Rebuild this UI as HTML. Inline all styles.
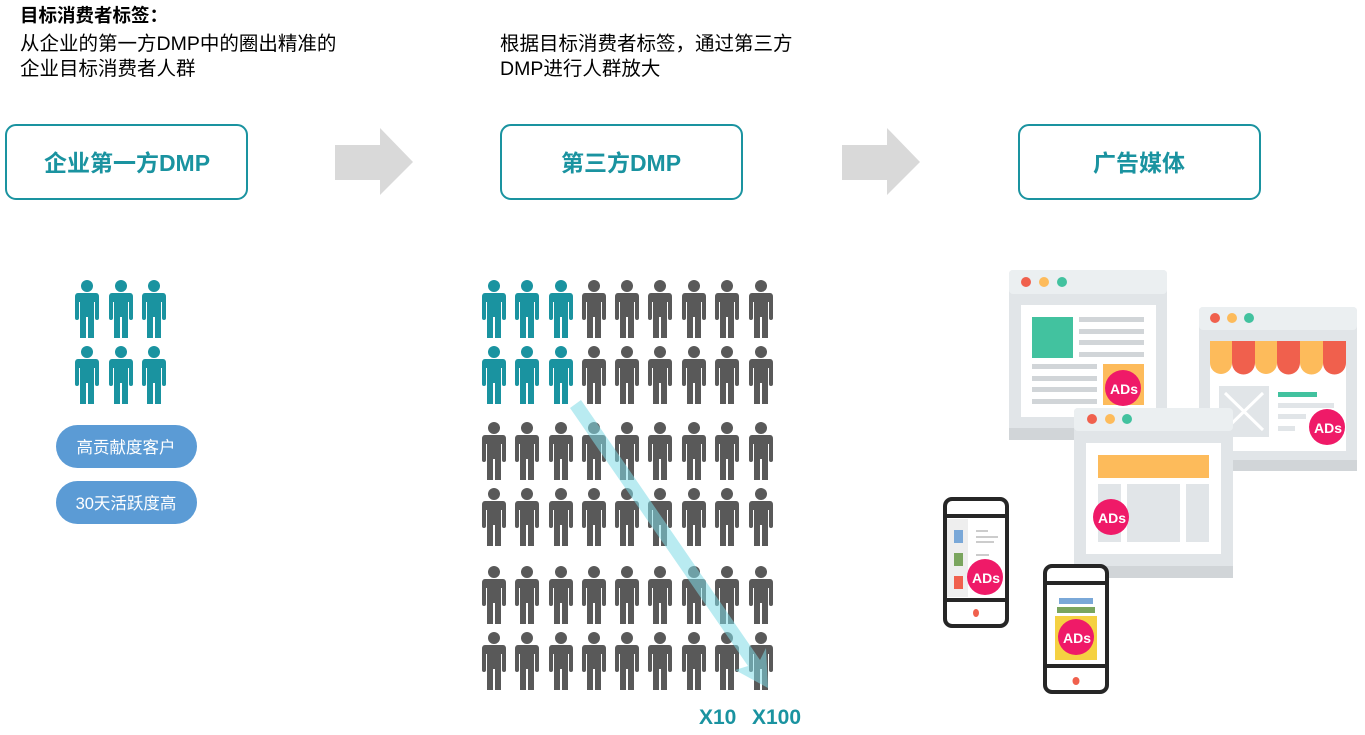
<!DOCTYPE html><html><head><meta charset="utf-8"><style>
body{margin:0;width:1365px;height:730px;background:#fff;overflow:hidden;font-family:"Liberation Sans","Noto Sans CJK SC",sans-serif}
</style></head><body>
<svg width="1365" height="730" xmlns="http://www.w3.org/2000/svg" font-family="Liberation Sans, Noto Sans CJK SC, sans-serif">
<defs>
<g id="p">
<circle cx="12" cy="6" r="6"/>
<path d="M3 13 H21 Q24 13 24 17 V38 Q24 40 22 40 Q20 40 20 38 V22 H19 V58 H13 V37 H11 V58 H5 V22 H4 V38 Q4 40 2 40 Q0 40 0 38 V17 Q0 13 3 13Z"/>
</g>
<g id="row9">
<use href="#p" x="482" y="0"/><use href="#p" x="515" y="0"/><use href="#p" x="549" y="0"/><use href="#p" x="582" y="0"/><use href="#p" x="615" y="0"/><use href="#p" x="648" y="0"/><use href="#p" x="682" y="0"/><use href="#p" x="715" y="0"/><use href="#p" x="749" y="0"/>
</g>
</defs>
<text x="20" y="22" font-size="18.5" font-weight="bold" fill="#000">目标消费者标签：</text>
<text x="20" y="50" font-size="19.5" fill="#000">从企业的第一方DMP中的圈出精准的</text>
<text x="20" y="75" font-size="19.5" fill="#000">企业目标消费者人群</text>
<text x="500" y="50" font-size="19.5" fill="#000">根据目标消费者标签，通过第三方</text>
<text x="500" y="75" font-size="19.5" fill="#000">DMP进行人群放大</text>
<g fill="#fff" stroke="#1a93a0" stroke-width="2">
<rect x="6" y="125" width="241" height="74" rx="10"/>
<rect x="501" y="125" width="241" height="74" rx="10"/>
<rect x="1019" y="125" width="241" height="74" rx="10"/>
</g>
<g fill="#1a93a0" font-size="23" font-weight="bold" text-anchor="middle">
<text x="127" y="171">企业第一方DMP</text>
<text x="621" y="171">第三方DMP</text>
<text x="1139" y="171">广告媒体</text>
</g>
<g fill="#d9d9d9">
<path d="M335 145 H380 V128 L413 162 L380 195 V180 H335Z"/>
<path d="M842 145 H887 V128 L920 162 L887 195 V180 H842Z"/>
</g>
<g fill="#1a93a0">
<use href="#p" x="75" y="280"/><use href="#p" x="109" y="280"/><use href="#p" x="142" y="280"/>
<use href="#p" x="75" y="346"/><use href="#p" x="109" y="346"/><use href="#p" x="142" y="346"/>
</g>
<rect x="56" y="425" width="141" height="43" rx="21.5" fill="#5b9bd5"/>
<rect x="56" y="481" width="141" height="43" rx="21.5" fill="#5b9bd5"/>
<text x="126" y="453" font-size="16.5" fill="#fff" text-anchor="middle">高贡献度客户</text>
<text x="126" y="509" font-size="16.5" fill="#fff" text-anchor="middle">30天活跃度高</text>
<g fill="#1a93a0">
<use href="#p" x="482" y="280"/><use href="#p" x="515" y="280"/><use href="#p" x="549" y="280"/>
<use href="#p" x="482" y="346"/><use href="#p" x="515" y="346"/><use href="#p" x="549" y="346"/>
</g>
<g fill="#595959">
<use href="#p" x="582" y="280"/><use href="#p" x="615" y="280"/><use href="#p" x="648" y="280"/><use href="#p" x="682" y="280"/><use href="#p" x="715" y="280"/><use href="#p" x="749" y="280"/>
<use href="#p" x="582" y="346"/><use href="#p" x="615" y="346"/><use href="#p" x="648" y="346"/><use href="#p" x="682" y="346"/><use href="#p" x="715" y="346"/><use href="#p" x="749" y="346"/>
<use href="#row9" y="422"/><use href="#row9" y="488"/><use href="#row9" y="566"/><use href="#row9" y="632"/>
</g>
<g opacity="0.55" fill="#7fdbe6">
<path d="M570 408 L581 400 L760 660 L766 648 L768 688 L735 670 L748 666 L570 408Z"/>
</g>
<text x="699" y="724" font-size="21" font-weight="bold" fill="#1a93a0">X10</text>
<text x="752" y="724" font-size="21" font-weight="bold" fill="#1a93a0">X100</text>
<g>
<rect x="1009" y="270" width="158" height="170" rx="4" fill="#e1e5e8"/>
<rect x="1009" y="270" width="158" height="24" rx="4" fill="#ebeff1"/>
<rect x="1009" y="428" width="158" height="12" fill="#d1d5d8"/>
<circle cx="1026" cy="282" r="5" fill="#f0604d"/><circle cx="1044" cy="282" r="5" fill="#fdbb5b"/><circle cx="1062" cy="282" r="5" fill="#42c29f"/>
<rect x="1021" y="305" width="135" height="112" fill="#fff"/>
<rect x="1032" y="317" width="41" height="41" fill="#42c29f"/>
<g fill="#d1d5d8"><rect x="1079" y="317" width="65" height="5"/><rect x="1079" y="329" width="65" height="5"/><rect x="1079" y="340" width="65" height="5"/><rect x="1079" y="352" width="65" height="5"/>
<rect x="1032" y="364" width="65" height="5"/><rect x="1032" y="376" width="65" height="5"/><rect x="1032" y="387" width="65" height="5"/><rect x="1032" y="399" width="65" height="5"/></g>
<rect x="1103" y="364" width="41" height="41" fill="#fdbb5b"/>
</g>
<g>
<rect x="1199" y="307" width="158" height="164" rx="4" fill="#e1e5e8"/>
<rect x="1199" y="307" width="158" height="23" rx="4" fill="#ebeff1"/>
<rect x="1199" y="460" width="158" height="11" fill="#d1d5d8"/>
<circle cx="1215" cy="318" r="5" fill="#f0604d"/><circle cx="1232" cy="318" r="5" fill="#fdbb5b"/><circle cx="1249" cy="318" r="5" fill="#42c29f"/>
<rect x="1210" y="341" width="136" height="110" fill="#fff"/>
<path d="M1210 341 H1232 V363 A11 11 0 0 1 1210 363Z" fill="#fdbb5b"/>
<path d="M1232 341 H1255 V363 A11.5 11.5 0 0 1 1232 363Z" fill="#f0604d"/>
<path d="M1255 341 H1277 V363 A11 11 0 0 1 1255 363Z" fill="#fdbb5b"/>
<path d="M1277 341 H1300 V363 A11.5 11.5 0 0 1 1277 363Z" fill="#f0604d"/>
<path d="M1300 341 H1323 V363 A11.5 11.5 0 0 1 1300 363Z" fill="#fdbb5b"/>
<path d="M1323 341 H1346 V363 A11.5 11.5 0 0 1 1323 363Z" fill="#f0604d"/>
<rect x="1219" y="386" width="50" height="51" fill="#e1e5e8"/>
<path d="M1225 393 L1263 430 M1263 393 L1225 430" stroke="#fff" stroke-width="3"/>
<rect x="1278" y="392" width="39" height="5" fill="#42c29f"/>
<g fill="#e1e5e8"><rect x="1278" y="403" width="56" height="5"/><rect x="1278" y="414" width="28" height="5"/><rect x="1278" y="426" width="17" height="5"/></g>
</g>
<g>
<rect x="1074" y="408" width="159" height="170" rx="4" fill="#e1e5e8"/>
<rect x="1074" y="408" width="159" height="23" rx="4" fill="#ebeff1"/>
<rect x="1074" y="566" width="159" height="12" fill="#d1d5d8"/>
<circle cx="1092" cy="419" r="5" fill="#f0604d"/><circle cx="1110" cy="419" r="5" fill="#fdbb5b"/><circle cx="1127" cy="419" r="5" fill="#42c29f"/>
<rect x="1086" y="443" width="135" height="111" fill="#fff"/>
<rect x="1098" y="455" width="111" height="23" fill="#fdbb5b"/>
<g fill="#e1e5e8"><rect x="1098" y="484" width="23" height="58"/><rect x="1127" y="484" width="53" height="58"/><rect x="1186" y="484" width="23" height="58"/></g>
</g>
<g>
<rect x="945" y="499" width="62" height="127" rx="7" fill="#fff" stroke="#262626" stroke-width="4"/>
<rect x="945" y="514" width="62" height="4" fill="#262626"/><rect x="945" y="598" width="62" height="4" fill="#262626"/>
<rect x="947" y="519" width="21" height="78" fill="#eee"/>
<rect x="954" y="530" width="9" height="13" fill="#7aa8d8"/><rect x="954" y="553" width="9" height="13" fill="#7aa55e"/><rect x="954" y="576" width="9" height="13" fill="#f0604d"/>
<g fill="#ccc"><rect x="976" y="530" width="12" height="2"/><rect x="976" y="536" width="22" height="2"/><rect x="976" y="541" width="18" height="2"/><rect x="976" y="554" width="13" height="2"/></g>
<ellipse cx="976" cy="613" rx="3" ry="4" fill="#f0604d"/>
</g>
<g>
<rect x="1045" y="566" width="62" height="126" rx="7" fill="#fff" stroke="#262626" stroke-width="4"/>
<rect x="1045" y="581" width="62" height="4" fill="#262626"/><rect x="1045" y="664" width="62" height="4" fill="#262626"/>
<rect x="1059" y="598" width="34" height="6" fill="#7aa8d8"/><rect x="1057" y="607" width="38" height="6" fill="#7aa55e"/>
<rect x="1055" y="616" width="42" height="44" fill="#f5d142"/>
<ellipse cx="1076" cy="681" rx="3.5" ry="4" fill="#f0604d"/>
</g>
<g fill="#ef1a68"><circle cx="1123" cy="388" r="18"/><circle cx="1327" cy="427" r="18"/><circle cx="1111" cy="517" r="18"/><circle cx="985" cy="577" r="18"/><circle cx="1076" cy="637" r="18"/></g>
<g fill="#fff" font-size="14" font-weight="bold" text-anchor="middle">
<text x="1124" y="394">ADs</text><text x="1328" y="433">ADs</text><text x="1112" y="523">ADs</text><text x="986" y="583">ADs</text><text x="1077" y="643">ADs</text>
</g>
</svg>
</body></html>
